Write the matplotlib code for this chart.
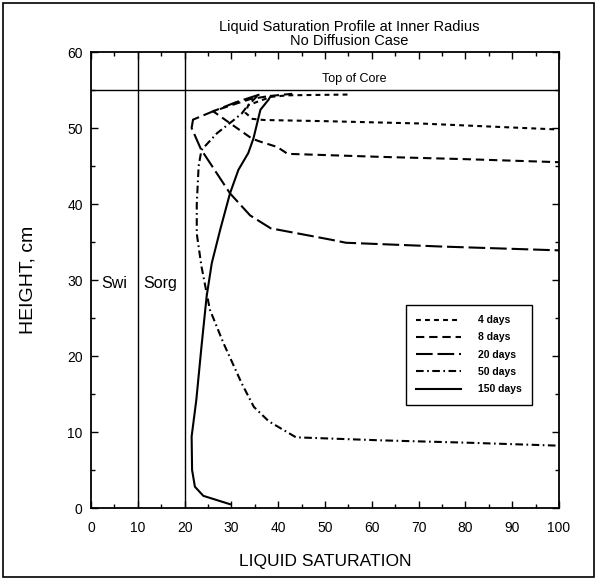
#!/usr/bin/env python3
"""Liquid saturation profile at inner radius, no diffusion case."""
import matplotlib; matplotlib.use("Agg")
import matplotlib.pyplot as plt
from matplotlib.patches import Rectangle
from matplotlib.ticker import MultipleLocator

plt.rcParams["font.family"] = ["Liberation Sans", "DejaVu Sans"]
plt.rcParams["lines.scale_dashes"] = False

# saturation (%) vs height (cm) for each time
sat_4d = [54.8, 48, 42, 38.5, 36.2, 33.6, 33.0, 34.5, 37, 50, 70, 100]
h_4d = [54.4, 54.35, 54.3, 54.1, 53.6, 53.0, 52.0, 51.2, 51.05, 50.9, 50.6, 49.8]

sat_8d = [43, 38, 34, 30, 26.1, 30, 34.4, 36.2, 39.8, 42, 62, 80, 100]
h_8d = [54.5, 54.2, 53.8, 53.0, 52.2, 50.5, 48.6, 48.2, 47.5, 46.6, 46.2, 45.9, 45.5]

sat_20d = [36, 31, 26.1, 21.8, 21.5, 23.5, 29.7, 34, 38.4, 51.3, 54.5, 75, 100]
h_20d = [54.4, 53.4, 52.2, 51.1, 50.0, 47.2, 41.4, 38.5, 36.8, 35.3, 34.9, 34.4, 33.9]

sat_50d = [35.5, 33.3, 32.2, 30.4, 26.9, 23.6, 23.0, 22.6, 22.6, 23.6, 24.7, 25.4,
           28.3, 32.2, 34.8, 38.0, 43.8, 62, 80, 100]
h_50d = [54.2, 52.8, 51.9, 51.0, 49.3, 47.1, 45.0, 40.0, 36.1, 31.8, 28.3, 26.1,
         21.7, 16.4, 13.3, 11.4, 9.3, 8.9, 8.6, 8.2]

sat_150d = [38.4, 37.9, 36.2, 34.7, 33.6, 31.5, 29.7, 27.6, 25.8, 24.7, 23.6, 22.5,
            21.5, 21.6, 22.2, 24.0, 29.7]
h_150d = [54.2, 53.7, 52.4, 48.6, 46.7, 44.5, 41.4, 36.6, 32.2, 27.8, 21.2, 14.2,
          9.4, 5.0, 2.8, 1.6, 0.5]

top_of_core = 55
swi, sorg = 10, 20

fig = plt.figure(figsize=(5.96, 5.78), dpi=100)
ax = fig.add_axes([91 / 596, 70 / 578, 468 / 596, 456 / 578])

lw = 1.5
ax.plot(sat_4d, h_4d, color="black", lw=lw, dashes=(3.5, 3.0), label="4 days")
ax.plot(sat_8d, h_8d, color="black", lw=lw, dashes=(6.0, 3.5), label="8 days")
ax.plot(sat_20d, h_20d, color="black", lw=lw, dashes=(12.0, 3.5), label="20 days")
ax.plot(sat_50d, h_50d, color="black", lw=lw, dashes=(5.5, 2.5, 1.2, 2.5), label="50 days")
ax.plot(sat_150d, h_150d, color="black", lw=lw, label="150 days")

ax.axhline(top_of_core, color="black", lw=1.0)
ax.axvline(swi, color="black", lw=1.0)
ax.axvline(sorg, color="black", lw=1.0)
ax.text(56.2, 56.4, "Top of Core", ha="center", va="center", fontsize=9)
ax.text(2.3, 29.0, "Swi", ha="left", va="baseline", fontsize=11.5)
ax.text(11.1, 29.0, "Sorg", ha="left", va="baseline", fontsize=11.5)

ax.set_xlim(0, 100)
ax.set_ylim(0, 60)
ax.xaxis.set_major_locator(MultipleLocator(10))
ax.xaxis.set_minor_locator(MultipleLocator(5))
ax.yaxis.set_major_locator(MultipleLocator(10))
ax.yaxis.set_minor_locator(MultipleLocator(5))
ax.tick_params(which="both", direction="in", top=True, right=True, width=1.0)
ax.tick_params(which="major", length=5)
ax.tick_params(which="minor", length=3)
ax.tick_params(axis="x", which="major", pad=9, labelsize=10)
ax.tick_params(axis="y", which="major", pad=6, labelsize=10)
for s in ax.spines.values():
    s.set_linewidth(1.3)

ax.set_xlabel("LIQUID SATURATION", fontsize=12.5, labelpad=14)
ax.set_ylabel("HEIGHT, cm", fontsize=14, labelpad=22)

leg = ax.legend(loc="center", bbox_to_anchor=(0.807, 0.336),
                prop={"size": 7.5, "weight": "bold"}, handlelength=4.3,
                handletextpad=1.6, labelspacing=0.7, fancybox=False,
                framealpha=1, borderpad=1.0)
leg.get_frame().set_edgecolor("black")
leg.get_frame().set_linewidth(1.0)

fig.text(349 / 596, 1 - 27 / 578, "Liquid Saturation Profile at Inner Radius",
         ha="center", va="center", fontsize=10.5)
fig.text(349 / 596, 1 - 41 / 578, "No Diffusion Case", ha="center", va="center",
         fontsize=10.5)

fig.patches.append(Rectangle((3 / 596, 1 / 578), 591 / 596, 574 / 578,
                             transform=fig.transFigure, fill=False,
                             edgecolor="black", lw=1.2))

fig.savefig("out.png", dpi=100)
